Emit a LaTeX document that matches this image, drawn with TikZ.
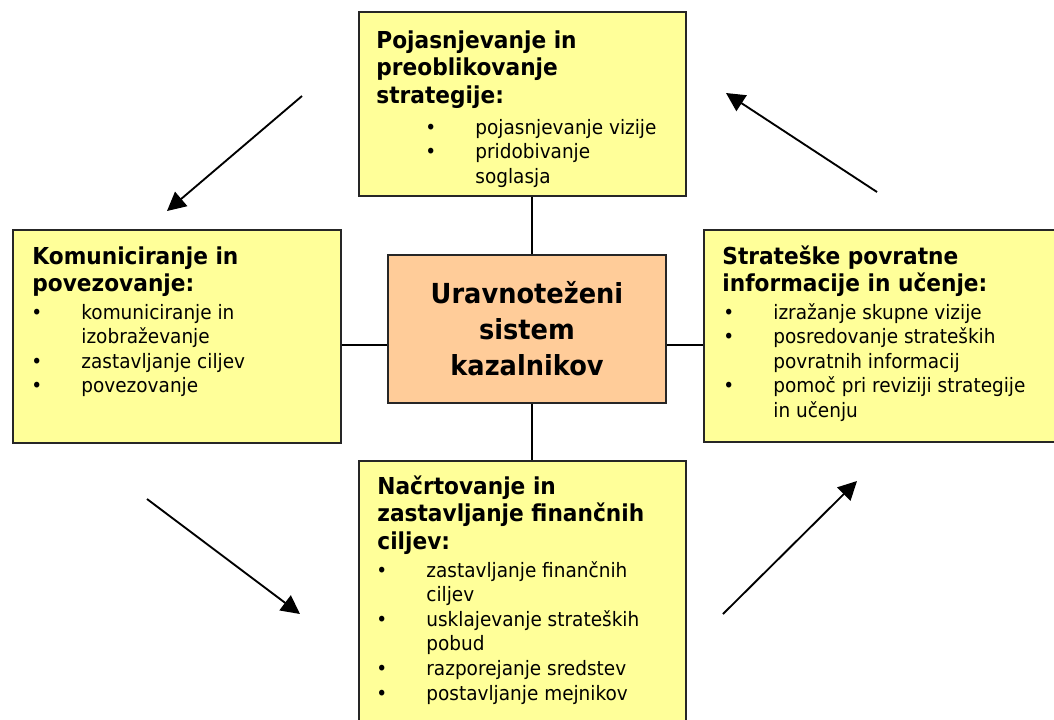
\documentclass[tikz,border=0pt]{standalone}
\usepackage{fontspec}
\setmainfont{DejaVu Sans}[FakeStretch=0.93]
\usetikzlibrary{arrows.meta,positioning}
\definecolor{boxyellow}{HTML}{FFFF99}
\definecolor{boxorange}{HTML}{FFCC99}
\newcommand{\ttlfont}{\fontsize{17.5}{20.8}\selectfont\bfseries}
\newcommand{\itmfont}{\fontsize{14.9}{18.45}\selectfont}
\newcommand{\ctrfont}{\fontsize{20.7}{27}\selectfont\bfseries}
\newcommand{\bitem}{\makebox[37.5pt][l]{\textbullet}}
\newcommand{\bcont}{\hspace*{37.5pt}}

\begin{document}
\begin{tikzpicture}[x=0.75pt,y=-0.75pt]
	\tikzstyle{ybox}=[draw=black!85,line width=1.3pt,fill=boxyellow,inner sep=0pt]
	\tikzstyle{obox}=[draw=black!85,line width=1.3pt,fill=boxorange,inner sep=0pt,align=center,font=\ctrfont]
	\tikzstyle{ttl}=[anchor=base west,inner sep=0pt,font=\ttlfont]
	\tikzstyle{lst}=[anchor=base west,inner sep=0pt,font=\itmfont]
	\tikzstyle{link}=[line width=1.1pt,black]
	\tikzstyle{arr}=[line width=1.4pt,black,-{Triangle[length=14pt,width=14pt]}]
	\clip (0,0) rectangle (1054,719);
	\fill[white] (0,0) rectangle (1054,719);
	% boxes
	\node[ybox,minimum width=245.25pt,minimum height=138pt] (strat) at (522.5,104) {};
	\node[ybox,minimum width=246pt,minimum height=159.75pt] (komun) at (177,336.5) {};
	\node[ybox,minimum width=274.5pt,minimum height=159pt] (povr) at (887,336) {};
	\node[ybox,minimum width=245.25pt,minimum height=209.25pt] (nacrt) at (522.5,600.5) {};
	\node[obox,minimum width=208.5pt,minimum height=111pt] (kaz) at (527,329) {Uravnoteženi\\sistem\\kazalnikov};
	% texts
	\node[ttl] (stratT) at ([shift={(18,37)}]strat.north west) {\begin{tabular}[t]{@{}l@{}}Pojasnjevanje in\\preoblikovanje\\strategije:\end{tabular}};
	\node[lst] (stratL) at ([shift={(67,123)}]strat.north west) {\begin{tabular}[t]{@{}l@{}}\bitem pojasnjevanje vizije\\\bitem pridobivanje\\\bcont soglasja\end{tabular}};
	\node[ttl] (komunT) at ([shift={(20,35)}]komun.north west) {\begin{tabular}[t]{@{}l@{}}Komuniciranje in\\povezovanje:\end{tabular}};
	\node[lst] (komunL) at ([shift={(19,90)}]komun.north west) {\begin{tabular}[t]{@{}l@{}}\bitem komuniciranje in\\\bcont izobraževanje\\\bitem zastavljanje ciljev\\\bitem povezovanje\end{tabular}};
	\node[ttl] (povrT) at ([shift={(19,35)}]povr.north west) {\begin{tabular}[t]{@{}l@{}}Strateške povratne\\informacije in učenje:\end{tabular}};
	\node[lst] (povrL) at ([shift={(20,90)}]povr.north west) {\begin{tabular}[t]{@{}l@{}}\bitem izražanje skupne vizije\\\bitem posredovanje strateških\\\bcont povratnih informacij\\\bitem pomoč pri reviziji strategije\\\bcont in učenju\end{tabular}};
	\node[ttl] (nacrtT) at ([shift={(19,34)}]nacrt.north west) {\begin{tabular}[t]{@{}l@{}}Načrtovanje in\\zastavljanje finančnih\\ciljev:\end{tabular}};
	\node[lst] (nacrtL) at ([shift={(18,117)}]nacrt.north west) {\begin{tabular}[t]{@{}l@{}}\bitem zastavljanje finančnih\\\bcont ciljev\\\bitem usklajevanje strateških\\\bcont pobud\\\bitem razporejanje sredstev\\\bitem postavljanje mejnikov\end{tabular}};
	% links to the centre
	\coordinate (vx) at (532,0);
	\coordinate (hy) at (0,345);
	\draw[link] (strat.south -| vx) -- (kaz.north -| vx);
	\draw[link] (kaz.south -| vx) -- (nacrt.north -| vx);
	\draw[link] (komun.east |- hy) -- (kaz.west |- hy);
	\draw[link] (kaz.east |- hy) -- (povr.west |- hy);
	% cycle arrows
	\coordinate (a1s) at (302,96);
	\coordinate (a1e) at (167,211);
	\coordinate (a2s) at (877,192);
	\coordinate (a2e) at (726,93);
	\coordinate (a3s) at (147,499);
	\coordinate (a3e) at (300,614);
	\coordinate (a4s) at (723,614);
	\coordinate (a4e) at (857,481);
	\draw[arr] (a1s) -- (a1e);
	\draw[arr] (a2s) -- (a2e);
	\draw[arr] (a3s) -- (a3e);
	\draw[arr] (a4s) -- (a4e);
\end{tikzpicture}
\end{document}
